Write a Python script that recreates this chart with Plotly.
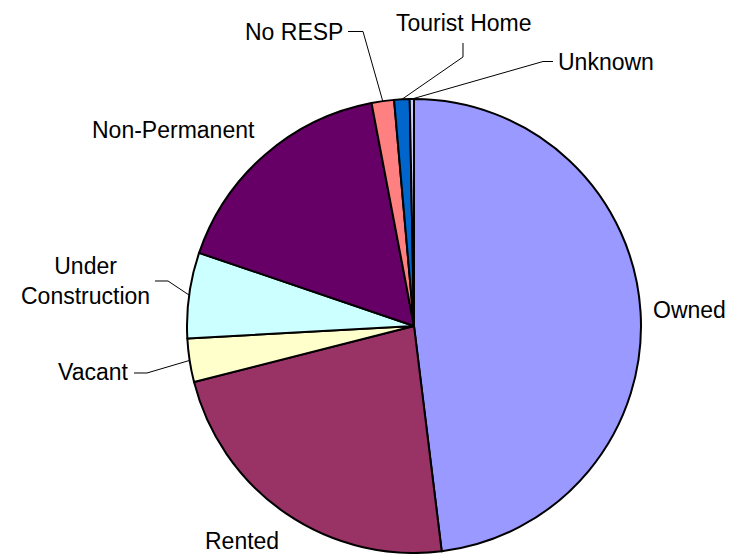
import math
import plotly.graph_objects as go

W, H = 738, 554

# data
labels = ['Owned', 'Rented', 'Vacant', 'Under Construction', 'Non-Permanent',
          'No RESP', 'Tourist Home', 'Unknown']
values = [48.1, 23.0, 3.1, 6.1, 16.8, 1.6, 1.1, 0.3]
colors = ['#9999FF', '#993366', '#FFFFCC', '#CCFFFF', '#660066',
          '#FF8080', '#0066CC', '#CCCCFF']
label_text = ['Owned', 'Rented', 'Vacant', 'Under<br>Construction', 'Non-Permanent',
              'No RESP', 'Tourist Home', 'Unknown']

# layout (pixels)
cx, cy, r = 414, 326, 227
label_pos = [(689.5, 310), (242, 540.5), (93.5, 372), (85.5, 280.5),
             (173.5, 130), (294, 31.5), (463, 22.5), (606, 61.5)]
# leader line start + elbow, None = no leader
leaders = [None, None, [(134, 373), (147, 373)], [(155, 281), (168, 281)], None,
           [(348, 31.5), (363, 31.5)], [(463, 43), (463, 57)], [(553, 61.5), (543, 61.5)]]


def px(x, y):
    return x / W, 1 - y / H


fig = go.Figure(go.Pie(
    labels=labels, values=values, sort=False, direction='clockwise', rotation=0,
    marker=dict(colors=colors, line=dict(color='black', width=2)),
    textinfo='none', hoverinfo='label+percent', showlegend=False,
    domain=dict(x=[(cx - r) / W, (cx + r) / W], y=[1 - (cy + r) / H, 1 - (cy - r) / H]),
))

total = sum(values)
cum = 0
shapes = []
annotations = []
for i, v in enumerate(values):
    mid = 2 * math.pi * (cum + v / 2) / total
    cum += v
    ex, ey = cx + r * math.sin(mid), cy - r * math.cos(mid)
    lx, ly = px(*label_pos[i])
    annotations.append(dict(x=lx, y=ly, xref='paper', yref='paper', text=label_text[i],
                            showarrow=False, xanchor='center', yanchor='middle', align='center',
                            font=dict(family='Liberation Sans, Arial', size=23, color='black')))
    if leaders[i]:
        pts = leaders[i] + [(ex, ey)]
        path = 'M ' + ' L '.join('%f,%f' % px(x, y) for x, y in pts)
        shapes.append(dict(type='path', path=path, xref='paper', yref='paper',
                           line=dict(color='black', width=1)))

fig.update_layout(width=W, height=H, margin=dict(l=0, r=0, t=0, b=0),
                  paper_bgcolor='white', plot_bgcolor='white',
                  shapes=shapes, annotations=annotations)

# page body has an 8px margin by default, drop it so the chart sits at 0,0
fig.write_html("out.html", config={'displayModeBar': False},
               post_script="document.body.style.margin='0';")
